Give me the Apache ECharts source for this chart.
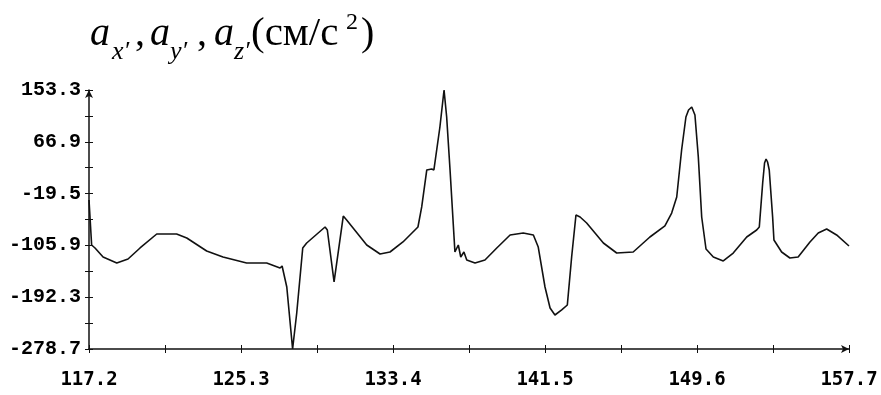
<!DOCTYPE html>
<html>
<head>
<meta charset="utf-8">
<script src="https://cdn.jsdelivr.net/npm/echarts@6/dist/echarts.min.js"></script>
<style>
  html, body { margin: 0; padding: 0; background: #fff; }
  #chart { width: 881px; height: 395px; }
</style>
</head>
<body>
<div id="chart"></div>
<script>
// time axis values and acceleration values
var xs = [117.2, 117.34, 117.52, 117.95, 118.68, 119.28, 119.92, 120.81, 121.87, 122.41,
  123.47, 124.34, 125.6, 126.67, 127.38, 127.49, 127.74, 128.05, 128.27, 128.59,
  128.8, 129.78, 129.9, 130.26, 130.75, 130.93, 132.0, 132.71, 133.24, 133.93,
  134.73, 134.93, 135.2, 135.46, 135.58, 135.9, 136.12, 136.26, 136.44, 136.7,
  136.88, 137.01, 137.18, 137.33, 137.77, 138.3, 138.93, 139.64, 140.34, 140.88,
  141.14, 141.5, 141.77, 142.03, 142.39, 142.69, 142.92, 143.15, 143.37, 143.72,
  144.61, 145.32, 146.2, 147.09, 147.89, 148.25, 148.52, 148.78, 149.01, 149.15,
  149.32, 149.42, 149.49, 149.67, 149.85, 150.08, 150.47, 151.0, 151.53, 152.25,
  152.78, 152.92, 153.1, 153.2, 153.28, 153.36, 153.45, 153.63, 153.7, 154.11,
  154.55, 154.99, 155.62, 156.06, 156.51, 157.04, 157.7];
var ys = [-30.2, -105.2, -110.2, -125.2, -135.3, -128.6, -110.2, -86.9, -86.9, -93.6,
  -115.2, -125.2, -135.3, -135.3, -143.6, -140.3, -175.3, -278.7, -218.7, -110.2,
  -101.9, -75.2, -80.2, -166.9, -56.9, -63.5, -105.2, -120.2, -116.9, -100.2,
  -75.2, -41.8, 19.9, 21.5, 19.9, 91.6, 153.3, 108.3, 19.9, -116.9,
  -105.2, -125.2, -116.9, -130.2, -135.3, -130.2, -110.2, -88.5, -85.2, -88.5,
  -108.6, -175.3, -210.3, -222, -213.6, -205.3, -125.2, -55.2, -58.5, -68.5,
  -101.9, -118.6, -116.9, -91.9, -73.5, -51.9, -25.2, 53.2, 108.3, 120.0,
  125.0, 123.3, 111.6, 41.6, -58.5, -111.9, -125.2, -131.9, -118.6, -91.9,
  -80.2, -75.2, -1.8, 31.6, 38.2, 33.2, 19.9, -58.5, -96.9, -116.9,
  -126.9, -125.2, -100.2, -85.2, -78.5, -88.5, -106.9];

var xLabels = [117.2, 125.3, 133.4, 141.5, 149.6, 157.7];
var xTicks = [117.2, 121.25, 125.3, 129.35, 133.4, 137.45, 141.5, 145.55, 149.6, 153.65, 157.7];
var yLabels = [-278.7, -192.3, -105.9, -19.5, 66.9, 153.3];
var yTicks = [-278.7, -235.5, -192.3, -149.1, -105.9, -62.7, -19.5, 23.7, 66.9, 110.1, 153.3];

var points = xs.map(function (x, i) { return [x, ys[i]]; });

var ink = '#111';
var monoX = '"DejaVu Sans Mono"';
var monoY = '"Liberation Mono"';

function fmt(v) { return Number(v).toFixed(1); }

// one piece of the title formula
function piece(text, x, y, font) {
  return {
    type: 'text', x: x, y: y,
    style: { text: text, font: font, fill: '#000', verticalAlign: 'middle', textVerticalAlign: 'middle' }
  };
}
var big = 'italic 40px "Liberation Serif"';
var sub = 'italic 26px "Liberation Serif"';
var up = '40px "Liberation Serif"';

var chart = echarts.init(document.getElementById('chart'));

var option = {
  animation: false,
  backgroundColor: '#fff',
  grid: {
    left: 89, right: 32, top: 90, bottom: 46,
    containLabel: false,
    outerBoundsMode: 'none'
  },
  graphic: [
    piece('a', 90, 34, big),
    piece('x\u2032', 112, 52, sub),
    piece(',', 135, 34, up),
    piece('a', 150, 34, big),
    piece('y\u2032', 170, 52, sub),
    piece(',', 197, 34, up),
    piece('a', 214, 34, big),
    piece('z\u2032', 234, 52, sub),
    piece('(см/с', 251, 34, '41px "Liberation Serif"'),
    piece('2', 346, 23, '24px "Liberation Serif"'),
    piece(')', 361, 34, up)
  ],
  xAxis: [
    {
      type: 'value', position: 'bottom', min: 117.2, max: 157.7,
      splitLine: { show: false },
      axisLine: {
        show: true, onZero: false,
        lineStyle: { color: ink, width: 1.5 },
        symbol: ['none', 'arrow'], symbolSize: [6, 8]
      },
      axisTick: { show: true, inside: false, length: 4, customValues: xTicks, lineStyle: { color: ink, width: 1 } },
      axisLabel: {
        customValues: xLabels, formatter: fmt, margin: 22,
        color: '#000', fontFamily: monoX, fontWeight: 'bold', fontSize: 19
      }
    },
    {
      type: 'value', position: 'bottom', min: 117.2, max: 157.7, offset: 0,
      splitLine: { show: false },
      axisLine: { show: false, onZero: false },
      axisTick: { show: true, inside: true, length: 4, customValues: xTicks, lineStyle: { color: ink, width: 1 } },
      axisLabel: { show: false }
    }
  ],
  yAxis: [
    {
      type: 'value', position: 'left', min: -278.7, max: 153.3,
      splitLine: { show: false },
      axisLine: {
        show: true, onZero: false,
        lineStyle: { color: ink, width: 1.5 },
        symbol: ['none', 'arrow'], symbolSize: [6, 8]
      },
      axisTick: { show: true, inside: false, length: 4, customValues: yTicks, lineStyle: { color: ink, width: 1 } },
      axisLabel: {
        customValues: yLabels, formatter: fmt, margin: 8,
        color: '#000', fontFamily: monoY, fontWeight: 'bold', fontSize: 20
      }
    },
    {
      type: 'value', position: 'left', min: -278.7, max: 153.3, offset: 0,
      splitLine: { show: false },
      axisLine: { show: false, onZero: false },
      axisTick: { show: true, inside: true, length: 4, customValues: yTicks, lineStyle: { color: ink, width: 1 } },
      axisLabel: { show: false }
    }
  ],
  series: [
    {
      type: 'line',
      xAxisIndex: 0,
      yAxisIndex: 0,
      data: points,
      showSymbol: false,
      symbol: 'none',
      smooth: false,
      lineStyle: { color: ink, width: 1.6 }
    }
  ]
};

chart.setOption(option);
</script>
</body>
</html>
